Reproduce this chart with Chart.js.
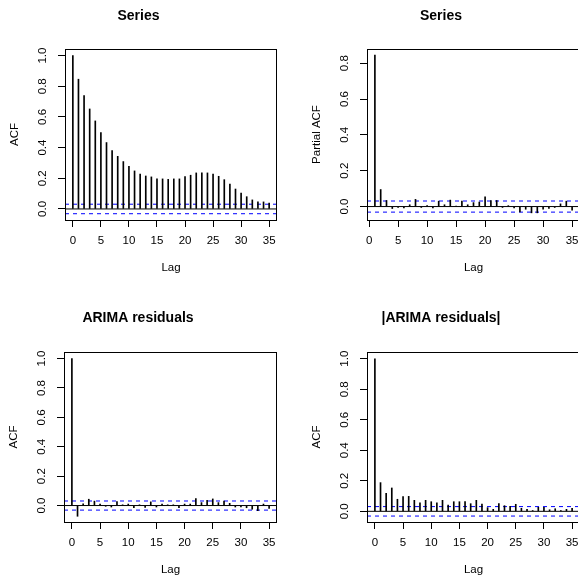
<!DOCTYPE html>
<html>
<head>
<meta charset="utf-8">
<script src="https://cdn.jsdelivr.net/npm/chart.js@4.4.0/dist/chart.umd.min.js"></script>
<style>
html, body { margin: 0; padding: 0; background: #fff; overflow: hidden; width: 578px; height: 578px; }
canvas { position: absolute; }
</style>
</head>
<body>
<canvas id="acf_series"></canvas>
<canvas id="pacf_series"></canvas>
<canvas id="acf_resid"></canvas>
<canvas id="acf_abs_resid"></canvas>
<script>
'use strict';
// lags
var lagsFrom0 = [0,1,2,3,4,5,6,7,8,9,10,11,12,13,14,15,16,17,18,19,20,21,22,23,24,25,26,27,28,29,30,31,32,33,34,35];
var lagsFrom1 = [1,2,3,4,5,6,7,8,9,10,11,12,13,14,15,16,17,18,19,20,21,22,23,24,25,26,27,28,29,30,31,32,33,34,35];

// values
var seriesAcf = [1.0,0.846,0.739,0.652,0.574,0.498,0.433,0.380,0.343,0.309,0.278,0.248,0.228,0.215,0.209,0.196,
  0.196,0.193,0.196,0.196,0.211,0.220,0.235,0.235,0.235,0.228,0.213,0.191,0.163,0.130,0.104,0.080,0.059,0.046,0.046,0.039];
var seriesPacf = [0.845,0.095,0.034,-0.011,-0.005,-0.008,0.010,0.040,-0.005,0.005,-0.008,0.030,0.010,0.036,0.003,
  0.030,0.010,0.022,0.025,0.054,0.034,0.034,-0.005,0.005,-0.008,-0.030,-0.015,-0.035,-0.035,-0.015,-0.010,-0.005,0.015,0.030,-0.020];
var residAcf = [1.0,-0.073,0.012,0.043,0.030,0.010,-0.005,-0.010,0.027,0.005,0.010,-0.015,0.005,-0.012,0.025,-0.010,
  0.010,0.005,0.005,-0.015,0.010,0.010,0.048,0.020,0.035,0.045,0.020,0.030,0.015,-0.010,-0.010,-0.015,-0.025,-0.035,0.010,-0.020];
var absResidAcf = [1.0,0.188,0.118,0.153,0.079,0.096,0.098,0.072,0.055,0.072,0.063,0.055,0.072,0.041,0.063,0.063,
  0.063,0.050,0.072,0.048,0.024,0.013,0.050,0.037,0.033,0.046,0.020,0.013,0.005,0.026,0.026,0.010,0.017,0.005,0.013,0.020];
var confLimit = 0.031;

// axis ticks
var lagTicks = [0,5,10,15,20,25,30,35];
var lagTickLabels = ['0','5','10','15','20','25','30','35'];
var acfTicks = [0,0.2,0.4,0.6,0.8,1.0];
var acfTickLabels = ['0.0','0.2','0.4','0.6','0.8','1.0'];
var pacfTicks = [0,0.2,0.4,0.6,0.8];
var pacfTickLabels = ['0.0','0.2','0.4','0.6','0.8'];

Chart.defaults.font.family = '"Liberation Sans", Arial, Helvetica, sans-serif';
Chart.defaults.font.size = 11.5;
Chart.defaults.color = '#000';

var AXIS_W = 65;
var TITLE_H = 49;
var XAXIS_H = 60;
var RIGHT_PAD = 12;

//draws the R style box round the plot region
var boxPlugin = {
  id: 'rbox',
  afterDraw: function(chart) {
    var a = chart.chartArea;
    var c = chart.ctx;
    c.save();
    c.strokeStyle = '#000';
    c.lineWidth = 1;
    var l = Math.round(a.left) + 0.5, r = Math.round(a.right) - 0.5;
    var t = Math.round(a.top) + 0.5, b = Math.round(a.bottom) + 0.5;
    c.strokeRect(l, t, r - l, b - t);
    c.restore();
  }
};

function hLine(xMin, xMax, y, color, dash) {
  return {
    type: 'line',
    data: [{x: xMin, y: y}, {x: xMax, y: y}],
    borderColor: color,
    borderWidth: 1,
    borderDash: dash,
    pointRadius: 0,
    fill: false,
    tension: 0
  };
}

function makePanel(id, p) {
  var canvas = document.getElementById(id);
  canvas.width = AXIS_W + p.boxW + RIGHT_PAD;
  canvas.height = TITLE_H + p.boxH + XAXIS_H;
  canvas.style.left = (p.boxLeft - AXIS_W) + 'px';
  canvas.style.top = (p.boxTop - TITLE_H) + 'px';

  var bars = p.lags.map(function(l, i) { return {x: l, y: p.values[i]}; });

  return new Chart(canvas.getContext('2d'), {
    type: 'bar',
    data: {
      datasets: [
        {
          type: 'bar',
          data: bars,
          backgroundColor: '#000',
          borderWidth: 0,
          barThickness: 1,
          grouped: false
        },
        hLine(p.xMin, p.xMax, 0, '#000', []),
        hLine(p.xMin, p.xMax, confLimit, '#0000ff', [4, 4]),
        hLine(p.xMin, p.xMax, -confLimit, '#0000ff', [4, 4])
      ]
    },
    options: {
      responsive: false,
      animation: false,
      events: [],
      layout: { padding: { left: 0, top: 0, right: RIGHT_PAD, bottom: 0 } },
      plugins: {
        legend: { display: false },
        tooltip: { enabled: false },
        title: {
          display: true,
          text: p.title,
          font: { size: 14, weight: 'bold' },
          padding: { top: p.titleTop, bottom: TITLE_H - 16.8 - p.titleTop }
        }
      },
      scales: {
        x: {
          type: 'linear',
          min: p.xMin,
          max: p.xMax,
          offset: false,
          afterFit: function(s) { s.height = XAXIS_H; },
          afterBuildTicks: function(s) { s.ticks = lagTicks.map(function(v) { return {value: v}; }); },
          ticks: {
            padding: 7,
            maxRotation: 0,
            autoSkip: false,
            callback: function(v) { return lagTickLabels[lagTicks.indexOf(v)]; }
          },
          grid: { display: true, offset: false, drawOnChartArea: false, drawTicks: true, tickLength: 7, color: '#000' },
          border: { display: false },
          title: { display: true, text: 'Lag', padding: { top: 0, bottom: 5 } }
        },
        y: {
          type: 'linear',
          min: p.yMin,
          max: p.yMax,
          afterFit: function(s) { s.width = AXIS_W; },
          afterBuildTicks: function(s) { s.ticks = p.yTicks.map(function(v) { return {value: v}; }); },
          ticks: {
            padding: 7,
            minRotation: 90,
            maxRotation: 90,
            crossAlign: 'center',
            autoSkip: false,
            callback: function(v) {
              for (var i = 0; i < p.yTicks.length; i++) {
                if (Math.abs(p.yTicks[i] - v) < 1e-9) return p.yLabels[i];
              }
              return '';
            }
          },
          grid: { display: true, drawOnChartArea: false, drawTicks: true, tickLength: 7, color: '#000' },
          border: { display: false },
          title: { display: true, text: p.yTitle, padding: { top: 8, bottom: 0 } }
        }
      }
    },
    plugins: [boxPlugin]
  });
}

makePanel('acf_series', {
  boxLeft: 65, boxTop: 49, boxW: 212, boxH: 171, titleTop: 7.6,
  title: 'Series', yTitle: 'ACF',
  lags: lagsFrom0, values: seriesAcf,
  xMin: -1.4, xMax: 36.4, yMin: -0.072, yMax: 1.043,
  yTicks: acfTicks, yLabels: acfTickLabels
});
makePanel('pacf_series', {
  boxLeft: 367, boxTop: 49, boxW: 213, boxH: 171, titleTop: 7.6,
  title: 'Series', yTitle: 'Partial ACF',
  lags: lagsFrom1, values: seriesPacf,
  xMin: -0.36, xMax: 36.36, yMin: -0.075, yMax: 0.879,
  yTicks: pacfTicks, yLabels: pacfTickLabels
});
makePanel('acf_resid', {
  boxLeft: 64, boxTop: 352, boxW: 213, boxH: 170, titleTop: 6.3,
  title: 'ARIMA residuals', yTitle: 'ACF',
  lags: lagsFrom0, values: residAcf,
  xMin: -1.4, xMax: 36.4, yMin: -0.112, yMax: 1.045,
  yTicks: acfTicks, yLabels: acfTickLabels
});
makePanel('acf_abs_resid', {
  boxLeft: 367, boxTop: 352, boxW: 213, boxH: 170, titleTop: 6.3,
  title: '|ARIMA residuals|', yTitle: 'ACF',
  lags: lagsFrom0, values: absResidAcf,
  xMin: -1.4, xMax: 36.4, yMin: -0.070, yMax: 1.044,
  yTicks: acfTicks, yLabels: acfTickLabels
});
</script>
</body>
</html>
